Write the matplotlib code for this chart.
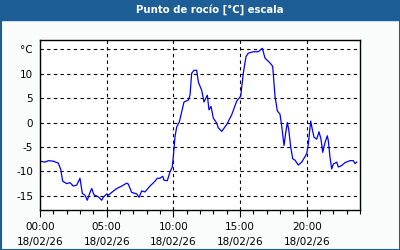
import matplotlib
matplotlib.use("Agg")
import matplotlib.pyplot as plt
from matplotlib.patches import Rectangle

# pixel-read trace converted to hours / °C
xpix = [40, 45, 48.3, 53.3, 58.3, 60.7, 62.7, 66.7, 70, 73.3, 76.7, 80, 82.3, 85, 87.3, 90, 91.7, 94,
        98.3, 101.7, 103.3, 106.7, 108.3, 111.7, 116.7, 121.7, 126.7, 128.3, 131.7, 136.7, 139, 141.7,
        145, 150, 155, 157.3, 160, 162.7, 164, 167.3, 170, 172.3, 173.3, 175, 176.7, 179.3, 181.7, 184,
        188.3, 190, 191.7, 194, 196.7, 198.3, 201.7, 204, 207.3, 209, 211, 213.3, 216.7, 218.3, 221.7,
        226.7, 231.7, 236.7, 240.7, 243.3, 246, 248.3, 253.3, 258.3, 262.3, 265, 270, 272.7, 275, 277.3,
        280, 281.7, 284, 286, 287.3, 288.7, 290.7, 292.7, 295, 298.3, 301.7, 306.7, 308.3, 310.7, 312.3,
        314, 316.7, 319, 321, 322.7, 325, 327.3, 328.3, 330, 331.7, 333.3, 336.7, 338.3, 341.7, 345,
        350, 353.3, 355, 356.7]
hours = [(x - 40) * 0.075 for x in xpix]
dew_point = [-7.9, -8.1, -7.8, -7.9, -8.3, -9.6, -12.0, -12.5, -12.3, -13.0, -12.8, -11.4, -14.5, -14.9,
             -15.9, -14.3, -13.5, -14.8, -15.2, -15.9, -15.3, -14.6, -14.9, -14.3, -13.5, -13.0, -12.4,
             -12.6, -14.3, -14.6, -15.3, -14.0, -14.2, -13.0, -12.0, -11.4, -11.4, -11.0, -11.8, -11.9,
             -10.1, -9.1, -7.0, -2.9, -0.9, 0.1, 2.2, 4.2, 4.6, 5.6, 10.1, 10.7, 10.7, 8.3, 6.6, 4.2,
             5.6, 2.6, 3.3, 0.9, -0.1, -1.1, -1.8, -0.4, 1.6, 4.4, 5.4, 10.1, 13.5, 14.2, 14.5, 14.5,
             15.2, 13.2, 12.2, 11.5, 5.4, 2.4, 1.7, -0.7, -4.7, -1.7, 0.0, -1.4, -5.0, -7.4, -7.7, -8.7,
             -8.1, -6.4, -4.4, 0.3, -1.4, -3.0, -3.4, -1.9, -3.4, -6.1, -4.1, -2.7, -3.7, -7.1, -9.5,
             -8.5, -8.1, -9.1, -8.8, -8.2, -7.8, -7.8, -8.4, -8.1]

x_ticks = [0, 5, 10, 15, 20]
x_labels = ["00:00\n18/02/26", "05:00\n18/02/26", "10:00\n18/02/26", "15:00\n18/02/26", "20:00\n18/02/26"]
y_ticks = [15, 10, 5, 0, -5, -10, -15]
y_labels = ["°C", "10", "5", "0", "-5", "-10", "-15"]
title = "Punto de rocío [°C] escala"

W, H = 400, 250
fig = plt.figure(figsize=(W / 100, H / 100), dpi=100)
fig.patch.set_facecolor("#f9fcfa")
blue = "#1d5e96"
# title bar and border
fig.add_artist(Rectangle((0, 1 - 20 / H), 1, 20 / H, transform=fig.transFigure, color=blue, zorder=0))
fig.add_artist(Rectangle((0.5 / W, 0.5 / H), 1 - 1 / W, 1 - 1 / H, transform=fig.transFigure,
                         fill=False, edgecolor=blue, lw=1.5, zorder=5))
fig.text(210 / W, 1 - 10 / H, title, color="white", fontsize=7.3, fontweight="bold",
         ha="center", va="center")

ax = fig.add_axes([40 / W, 1 - 210 / H, 320 / W, 170 / H])
ax.set_facecolor("white")
ax.plot(hours, dew_point, color="#0000ff", lw=0.9)
ax.set_xlim(0, 24)
ax.set_ylim(-17.9, 16.9)
ax.set_xticks(x_ticks)
ax.set_xticklabels(x_labels, fontsize=7.5, linespacing=1.5)
ax.set_xticks(range(0, 25), minor=True)
ax.set_yticks(y_ticks)
ax.set_yticklabels(y_labels, fontsize=7.5)
ax.tick_params(axis="x", which="major", length=5, width=0.8, direction="out", pad=4)
ax.tick_params(axis="x", which="minor", length=3, width=0.8, direction="out")
ax.tick_params(axis="y", length=0, pad=5)
ax.grid(True, which="major", color="black", linestyle=(0, (3, 3)), lw=0.8)
for s in ax.spines.values():
    s.set_color("black")
    s.set_linewidth(1)

fig.savefig("out.png", dpi=100, facecolor=fig.get_facecolor())
